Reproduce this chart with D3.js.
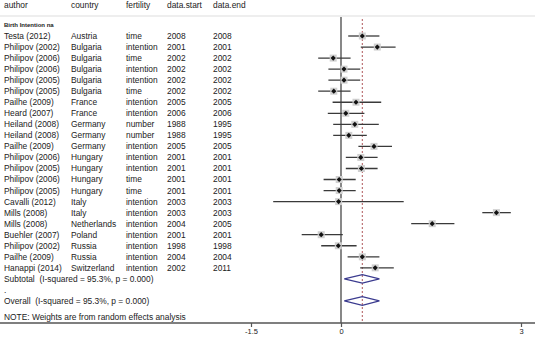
<!DOCTYPE html>
<html>
<head>
<meta charset="utf-8">
<script src="https://cdn.jsdelivr.net/npm/d3@7"></script>
<style>
  body { margin: 0; background: #fff; }
  text { font-family: "Liberation Sans", Arial, sans-serif; fill: #222; white-space: pre; }
</style>
</head>
<body>
<svg id="forest" width="535" height="346"></svg>
<script>
// study rows
var authors = ["Testa (2012)", "Philipov (2002)", "Philipov (2006)", "Philipov (2006)", "Philipov (2005)", "Philipov (2005)",
    "Pailhe (2009)", "Heard (2007)", "Heiland (2008)", "Heiland (2008)", "Pailhe (2009)", "Philipov (2006)",
    "Philipov (2005)", "Philipov (2006)", "Philipov (2005)", "Cavalli (2012)", "Mills (2008)", "Mills (2008)",
    "Buehler (2007)", "Philipov (2002)", "Pailhe (2009)", "Hanappi (2014)"];
var countries = ["Austria", "Bulgaria", "Bulgaria", "Bulgaria", "Bulgaria", "Bulgaria", "France", "France",
    "Germany", "Germany", "Germany", "Hungary", "Hungary", "Hungary", "Hungary", "Italy", "Italy", "Netherlands",
    "Poland", "Russia", "Russia", "Switzerland"];
var fertility = ["time", "intention", "time", "intention", "intention", "time", "intention", "intention",
    "number", "number", "intention", "intention", "intention", "time", "time", "intention", "intention", "intention",
    "intention", "intention", "intention", "intention"];
var dataStart = ["2008", "2001", "2002", "2002", "2002", "2002", "2005", "2006", "1988", "1988", "2005", "2001",
    "2001", "2001", "2001", "2003", "2003", "2004", "2001", "1998", "2004", "2002"];
var dataEnd = ["2008", "2001", "2002", "2002", "2002", "2002", "2005", "2006", "1995", "1995", "2005", "2001",
    "2001", "2001", "2001", "2003", "2003", "2005", "2001", "1998", "2004", "2011"];
var effect = [0.355, 0.605, -0.13, 0.05, 0.05, -0.12, 0.25, 0.08, 0.23, 0.13, 0.55, 0.33, 0.34, -0.03, -0.03,
    -0.04, 2.59, 1.52, -0.33, -0.045, 0.355, 0.57];
var lower = [0.12, 0.33, -0.38, -0.21, -0.21, -0.38, -0.14, -0.22, -0.13, -0.13, 0.29, 0.08, 0.08, -0.29, -0.29,
    -1.13, 2.355, 1.17, -0.655, -0.33, 0.11, 0.32];
var upper = [0.64, 0.91, 0.16, 0.32, 0.32, 0.16, 0.67, 0.39, 0.63, 0.43, 0.85, 0.61, 0.61, 0.245, 0.245,
    1.045, 2.83, 1.89, 0.03, 0.26, 0.64, 0.88];

// pooled estimates
var pooledLabels = ["Subtotal  (I-squared = 95.3%, p = 0.000)", "Overall  (I-squared = 95.3%, p = 0.000)"];
var pooledRows = [22, 24];
var pooledEffect = [0.355, 0.355];
var pooledLower = [0.055, 0.055];
var pooledUpper = [0.64, 0.64];

var headers = ["author", "country", "fertility", "data.start", "data.end"];
var xTicks = [-1.5, 0, 3];
var overallEffect = 0.355;

var svg = d3.select("#forest");
var W = 535;

var x = d3.scaleLinear().domain([0, 3]).range([341, 521]);
var y = d3.scaleLinear().domain([0, 1]).range([36, 47.04]);
var colX = [4, 71, 126, 167, 213];

// header
svg.selectAll("text.hdr").data(headers).enter()
    .append("text")
    .attr("class", "hdr")
    .attr("x", function(d, i){ return colX[i]; })
    .attr("y", 5)
    .attr("dy", "0.35em")
    .style("font-size", "8.4px")
    .text(function(d){ return d; });

svg.append("line")
    .attr("x1", 0).attr("x2", W)
    .attr("y1", 16).attr("y2", 16)
    .attr("stroke", "#ddd").attr("stroke-width", 1.2);

svg.append("text")
    .attr("x", 4).attr("y", y(-1)).attr("dy", "0.35em")
    .style("font-size", "6px").style("font-weight", "bold")
    .text("Birth Intention na");

// table columns
var rows = authors.map(function(a, i){
    return [a, countries[i], fertility[i], dataStart[i], dataEnd[i]];
});
rows.forEach(function(r, i){
    svg.selectAll(null).data(r).enter()
        .append("text")
        .attr("x", function(d, j){ return colX[j]; })
        .attr("y", y(i))
        .attr("dy", "0.35em")
        .style("font-size", "8.4px")
        .text(function(d){ return d; });
});

svg.selectAll("text.pooled").data(pooledLabels).enter()
    .append("text")
    .attr("class", "pooled")
    .attr("x", 4)
    .attr("y", function(d, i){ return y(pooledRows[i]); })
    .attr("dy", "0.35em")
    .style("font-size", "8.4px")
    .text(function(d){ return d; });

svg.append("text")
    .attr("x", 4).attr("y", y(23)).attr("dy", "0.35em")
    .style("font-size", "8.4px").text(".");

svg.append("text")
    .attr("x", 4).attr("y", 317).attr("dy", "0.35em")
    .style("font-size", "8.4px")
    .text("NOTE: Weights are from random effects analysis");

// null line and overall line
svg.append("line")
    .attr("x1", x(0)).attr("x2", x(0))
    .attr("y1", 17).attr("y2", 323)
    .attr("stroke", "#555").attr("stroke-width", 1.4);

svg.append("line")
    .attr("x1", x(overallEffect)).attr("x2", x(overallEffect))
    .attr("y1", 19).attr("y2", 323)
    .attr("stroke", "#b0585a").attr("stroke-width", 1)
    .attr("stroke-dasharray", "2,2");

// confidence intervals
var g = svg.append("g");
g.selectAll("line.ci").data(effect).enter()
    .append("line")
    .attr("class", "ci")
    .attr("x1", function(d, i){ return x(lower[i]); })
    .attr("x2", function(d, i){ return x(upper[i]); })
    .attr("y1", function(d, i){ return y(i); })
    .attr("y2", function(d, i){ return y(i); })
    .attr("stroke", "#3a3a3a").attr("stroke-width", 1.3);

g.selectAll("rect.box").data(effect).enter()
    .append("rect")
    .attr("class", "box")
    .attr("x", function(d){ return x(d) - 3.5; })
    .attr("y", function(d, i){ return y(i) - 3.5; })
    .attr("width", 7).attr("height", 7)
    .attr("fill", "#d0d0d0");

g.selectAll("path.pt").data(effect).enter()
    .append("path")
    .attr("class", "pt")
    .attr("d", function(d, i){
        var cx = x(d), cy = y(i), r = 2.6;
        return "M" + (cx - r) + "," + cy + "L" + cx + "," + (cy - r) + "L" + (cx + r) + "," + cy + "L" + cx + "," + (cy + r) + "Z";
    })
    .attr("fill", "#111");

// pooled diamonds
g.selectAll("path.diamond").data(pooledEffect).enter()
    .append("path")
    .attr("class", "diamond")
    .attr("d", function(d, i){
        var cy = y(pooledRows[i]), h = 4.3;
        return "M" + x(pooledLower[i]) + "," + cy + "L" + x(d) + "," + (cy - h) +
            "L" + x(pooledUpper[i]) + "," + cy + "L" + x(d) + "," + (cy + h) + "Z";
    })
    .attr("fill", "none")
    .attr("stroke", "#3b3b8f").attr("stroke-width", 1.3);

// x axis
svg.append("line")
    .attr("x1", 0).attr("x2", W)
    .attr("y1", 323).attr("y2", 323)
    .attr("stroke", "#555").attr("stroke-width", 1.4);

var axis = d3.axisBottom(x).tickValues(xTicks).tickSize(4).tickPadding(2)
    .tickFormat(function(d){ return d; });
var ax = svg.append("g").attr("transform", "translate(0,323)").call(axis);
ax.select(".domain").remove();
ax.selectAll(".tick line").attr("stroke", "#555").attr("stroke-width", 1.2);
ax.selectAll(".tick text")
    .style("font-family", "Liberation Sans, Arial, sans-serif")
    .style("font-size", "7.5px").attr("fill", "#333");
</script>
</body>
</html>
